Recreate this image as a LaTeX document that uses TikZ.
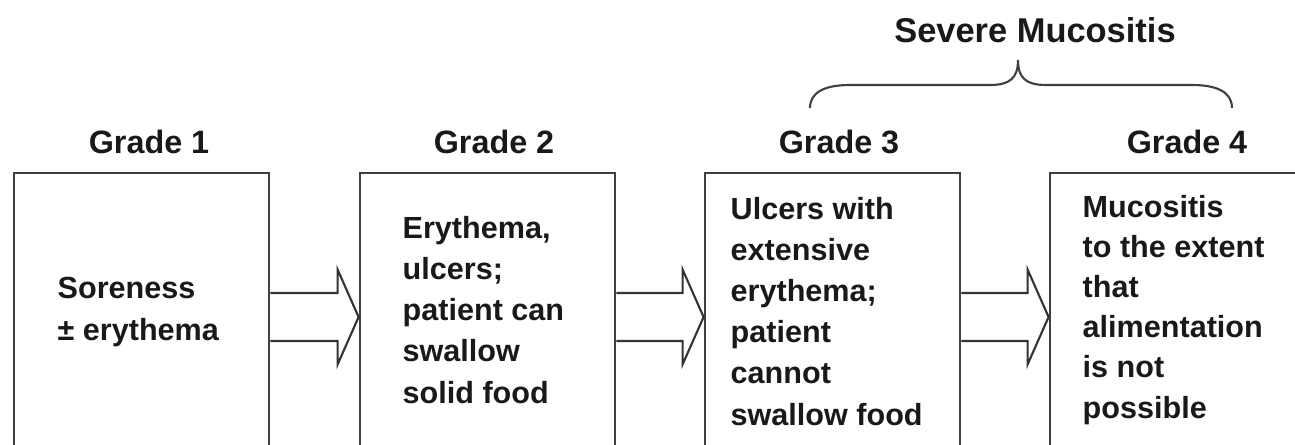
\documentclass[tikz,border=0pt]{standalone}
\usepackage{fontspec}
\setmainfont{Liberation Sans}
\usepackage{tikz}
\usetikzlibrary{calc}
\usepackage{xcolor}

\tikzset{
  gradebox/.style={draw=black!75, line width=0.8pt, minimum width=2.55cm,
    minimum height=2.88cm, inner sep=0pt},
  gradetitle/.style={anchor=base, inner sep=0pt, text=black!90,
    font=\fontsize{9.2}{12}\selectfont\bfseries},
  gradetext/.style={anchor=base west, align=left, inner sep=0pt, text=black!90,
    font=\fontsize{8.7}{11.7}\selectfont\bfseries},
  blockarrow/.style={draw=black!80, line width=0.6pt, line join=miter}
}

\begin{document}
\begin{tikzpicture}
    \useasboundingbox (0,0) rectangle (12.95,4.44);
    \clip (0,0) rectangle (12.95,4.44);

    % boxes (run below the lower edge)
    \node[gradebox] (g1) at (1.415,1.27) {};
    \node[gradebox] (g2) at (4.875,1.27) {};
    \node[gradebox] (g3) at (8.325,1.27) {};
    \node[gradebox] (g4) at (11.775,1.27) {};

    % titles
    \node[gradetitle] (t1) at (1.49,2.91) {Grade 1};
    \node[gradetitle] (t2) at (4.94,2.91) {Grade 2};
    \node[gradetitle] (t3) at (8.39,2.91) {Grade 3};
    \node[gradetitle] (t4) at (11.87,2.91) {Grade 4};

    % box texts (placed by the baseline of the last line)
    \node[gradetext] (d1) at (0.57,1.04) {Soreness\\± erythema};
    \node[gradetext] (d2) at (4.02,0.41) {Erythema,\\ulcers;\\patient can\\swallow\\solid food};
    \node[gradetext] (d3) at (7.30,0.19) {Ulcers with\\extensive\\erythema;\\patient\\cannot\\swallow food};
    \node[gradetext, font=\fontsize{8.7}{11.4}\selectfont\bfseries] (d4) at (10.82,0.26)
      {Mucositis\\to the extent\\that\\alimentation\\is not\\possible};

    % block arrows between the boxes
    \foreach \a/\b in {g1/g2, g2/g3, g3/g4}
      \draw[blockarrow] ($(\a.east)+(0,0.24)$) -- ($(\b.west)+(-0.21,0.24)$)
        -- ++(0,0.235) -- (\b.west) -- ++(-0.21,-0.475) -- ++(0,0.235)
        -- ($(\a.east)+(0,-0.24)$);

    % brace over grades 3 and 4
    \coordinate (bl) at (8.10,3.36);
    \coordinate (btip) at (10.18,3.84);
    \coordinate (br) at (12.32,3.36);
    \draw[draw=black!75, line width=0.6pt]
      (bl) .. controls (8.10,3.52) and (8.25,3.59) .. (8.50,3.59) -- (9.90,3.59)
      .. controls (10.10,3.59) and (10.18,3.66) .. (btip)
      .. controls (10.18,3.66) and (10.26,3.59) .. (10.46,3.59) -- (11.92,3.59)
      .. controls (12.17,3.59) and (12.32,3.52) .. (br);
    \node[gradetitle, font=\fontsize{9.8}{12}\selectfont\bfseries] (sev) at (10.35,4.01) {Severe Mucositis};
\end{tikzpicture}
\end{document}
